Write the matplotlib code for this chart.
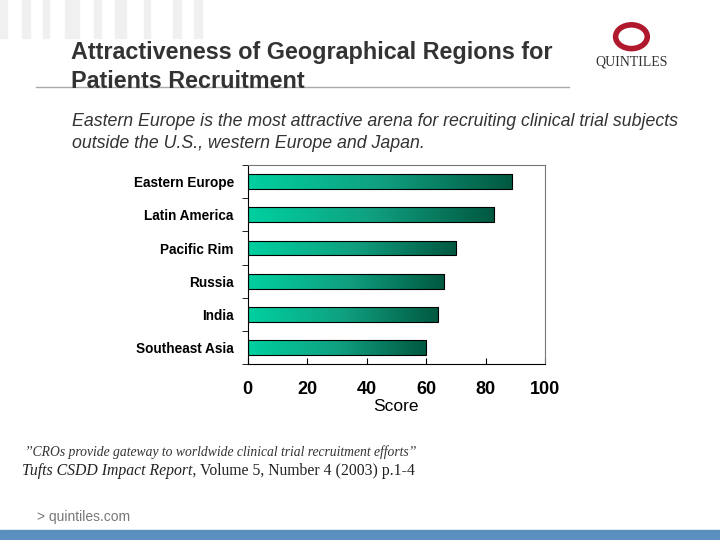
import matplotlib
matplotlib.use("Agg")
import matplotlib.pyplot as plt
import numpy as np
from matplotlib.colors import LinearSegmentedColormap

plt.rcParams['font.family'] = ['Liberation Sans', 'DejaVu Sans']

regions = ["Eastern Europe", "Latin America", "Pacific Rim", "Russia", "India", "Southeast Asia"]
scores = [89, 83, 70, 66, 64, 60]
xticks = [0, 20, 40, 60, 80, 100]

fig = plt.figure(figsize=(7.2, 5.4), dpi=100)
fig.patch.set_facecolor("white")

for x0, w in [(0.0, 0.01), (0.03, 0.012), (0.06, 0.008), (0.09, 0.02), (0.13, 0.01), (0.16, 0.015), (0.2, 0.008), (0.24, 0.012), (0.27, 0.01)]:
    fig.patches.append(plt.Rectangle((x0, 0.93), w, 0.07, transform=fig.transFigure, color="#f0f0f0", zorder=0))
fig.text(0.098, 0.903, "Attractiveness of Geographical Regions for", fontsize=16.8, fontweight="bold", color="#333333", va="center")
fig.text(0.098, 0.85, "Patients Recruitment", fontsize=16.8, fontweight="bold", color="#333333", va="center")
fig.add_artist(plt.Line2D([0.05, 0.79], [0.838, 0.838], color="#aaaaaa", lw=1))
fig.add_artist(matplotlib.patches.Circle((0.877, 0.932), 0.022, transform=fig.transFigure, fill=False, ec="#b0182e", lw=4))
fig.text(0.877, 0.885, "QUINTILES", fontsize=10, family="Liberation Serif", color="#333333", ha="center", va="center")

fig.text(0.1, 0.775, "Eastern Europe is the most attractive arena for recruiting clinical trial subjects", fontsize=12.8, style="italic", color="#333333", va="center")
fig.text(0.1, 0.735, "outside the U.S., western Europe and Japan.", fontsize=12.8, style="italic", color="#333333", va="center")

ax = fig.add_axes([0.344, 0.326, 0.413, 0.368])
y = np.arange(len(regions))
cmap = LinearSegmentedColormap.from_list("g", ["#00d0a0", "#10a080", "#005840"])
grad = np.linspace(0, 1, 256).reshape(1, -1)
bars = ax.barh(y, scores, height=0.45, color="none", edgecolor="black", lw=0.8, zorder=3)
for b in bars:
    x0, y0, w, h = b.get_x(), b.get_y(), b.get_width(), b.get_height()
    im = ax.imshow(grad, cmap=cmap, aspect="auto", extent=[x0, x0 + w, y0, y0 + h], zorder=2)
    im.set_clip_path(b)
ax.set_xlim(0, 100)
ax.set_ylim(len(regions) - 0.5, -0.5)
ax.set_yticks(y)
ax.set_yticklabels(regions, fontsize=9.8, fontweight="bold")
ax.set_yticks(np.arange(-0.5, len(regions), 1), minor=True)
ax.tick_params(axis="y", which="major", length=0, pad=10)
ax.tick_params(axis="y", which="minor", length=4, direction="out")
ax.set_xticks(xticks)
ax.set_xticklabels([str(v) for v in xticks], fontsize=13, fontweight="bold")
ax.tick_params(axis="x", direction="in", length=4, pad=12)
ax.set_xlabel("Score", fontsize=12.5, labelpad=1)
for s in ax.spines.values():
    s.set_color("#777777")
ax.spines["left"].set_color("black")
ax.spines["bottom"].set_color("black")

fig.text(0.035, 0.163, "\u2019\u2019CROs provide gateway to worldwide clinical trial recruitment efforts\u2019\u2019", fontsize=9.8, family="Liberation Serif", style="italic", color="#333333", va="center")
fig.text(0.03, 0.128, "Tufts CSDD Impact Report,", fontsize=11.3, family="Liberation Serif", style="italic", color="#222222", va="center")
fig.text(0.278, 0.128, "Volume 5, Number 4 (2003) p.1-4", fontsize=11.3, family="Liberation Serif", color="#222222", va="center")
fig.text(0.052, 0.043, "> quintiles.com", fontsize=10, color="#777777", va="center")
fig.patches.append(plt.Rectangle((0, 0), 1, 0.018, transform=fig.transFigure, color="#5b8fc0"))

fig.savefig("out.png", dpi=100)
